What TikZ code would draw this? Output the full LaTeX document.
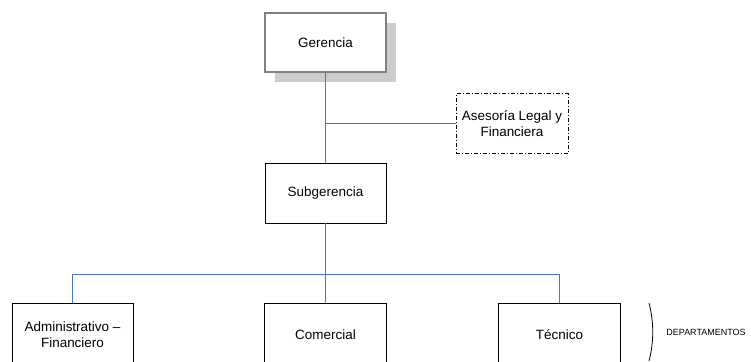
\documentclass[tikz,border=0pt]{standalone}
\usepackage{fontspec}
\setmainfont{Liberation Sans}
\usetikzlibrary{shadows}
\definecolor{linkblue}{RGB}{70,122,192}
\definecolor{shadowgray}{RGB}{204,204,204}
\begin{document}
\begin{tikzpicture}[x=1bp,y=-1bp,
  box/.style={draw=black, line width=0.8bp, fill=white, align=center,
    inner sep=0pt, font=\fontsize{13.5}{16}\selectfont},
  link/.style={draw=linkblue, line width=1.1bp},
  smalltext/.style={font=\fontsize{9}{11}\selectfont, inner sep=0pt}]
  \useasboundingbox (0,0) rectangle (751,361);
  \clip (0,0) rectangle (751,361);

  % top management box with its shadow and double frame
  \node[box, minimum width=121bp, minimum height=59bp,
        draw=black!85, double=gray, double distance=1.4bp, line width=0.7bp,
        drop shadow={shadow xshift=10bp, shadow yshift=-10bp, fill=shadowgray, opacity=1}]
    (ger) at (325.5,42.5) {Gerencia};

  % advisory box
  \node[box, minimum width=112bp, minimum height=60bp,
        dash pattern=on 4bp off 2bp on 1bp off 2bp]
    (ase) at (512,123.5) {Asesoría Legal y\\Financiera};

  \node[box, minimum width=121bp, minimum height=60bp]
    (sub) at (325.5,193) {Subgerencia};

  % departments
  \node[box, minimum width=121bp, minimum height=64bp]
    (adm) at (72.5,335) {Administrativo –\\Financiero};
  \node[box, minimum width=122bp, minimum height=64bp]
    (com) at (325.5,335) {Comercial};
  \node[box, minimum width=122bp, minimum height=64bp]
    (tec) at (559.5,335) {Técnico};

  % connectors: one trunk with a side branch, then the department bus
  \coordinate (bus) at (325.5,274.5);
  \coordinate (tee) at (ase.west -| ger.south);
  \path[link] (ger.south) -- (tee) -- (sub.north);
  \path[link] (ase.west) -- (tee);
  \path[link] (sub.south) -- (bus) -- (com.north);
  \path[link] (adm.north) |- (bus) -| (tec.north);

  % bracket and its label
  \draw[line width=0.8bp] (649,303) .. controls (654,322) and (654,342) .. (649,361);
  \node[smalltext] (dep) at (706,332) {DEPARTAMENTOS};
\end{tikzpicture}
\end{document}
